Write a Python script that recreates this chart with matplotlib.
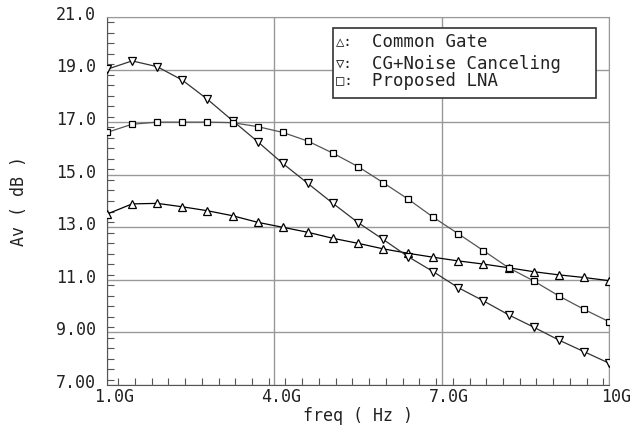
import matplotlib
matplotlib.use('Agg')
import matplotlib.pyplot as plt
from matplotlib.ticker import MultipleLocator, FixedLocator
from matplotlib.transforms import ScaledTranslation

# frequency points (GHz), 21 points from 1 to 10
freq = [1.0, 1.45, 1.9, 2.35, 2.8, 3.25, 3.7, 4.15, 4.6, 5.05, 5.5,
        5.95, 6.4, 6.85, 7.3, 7.75, 8.2, 8.65, 9.1, 9.55, 10.0]

cg = [13.50, 13.89, 13.91, 13.78, 13.63, 13.44, 13.19, 13.00, 12.81, 12.58, 12.39,
      12.18, 12.01, 11.86, 11.72, 11.60, 11.46, 11.31, 11.19, 11.09, 10.97]
cg_nc = [19.01, 19.33, 19.11, 18.60, 17.87, 17.06, 16.26, 15.43, 14.67, 13.91, 13.18,
         12.54, 11.88, 11.31, 10.70, 10.20, 9.67, 9.20, 8.71, 8.27, 7.83]
proposed = [16.61, 16.92, 17.00, 17.00, 17.00, 16.98, 16.83, 16.61, 16.28, 15.82, 15.31,
            14.70, 14.07, 13.38, 12.75, 12.11, 11.46, 10.96, 10.39, 9.88, 9.41]

xticks = [1, 4, 7, 10]
xticklabels = ['1.0G', '4.0G', '7.0G', '10G']
yticks = [7, 9, 11, 13, 15, 17, 19, 21]
yticklabels = ['7.00', '9.00', '11.0', '13.0', '15.0', '17.0', '19.0', '21.0']

legend_names = ['Common Gate', 'CG+Noise Canceling', 'Proposed LNA']
legend_syms = ['\u25b3', '\u25bd', '\u25a1']

font = ['DejaVu Sans Mono', 'DejaVu Sans']
txtc = '#222222'

fig = plt.figure(figsize=(6.32, 4.30), dpi=100)
ax = fig.add_axes([107/632, 45/430, 502/632, 368/430])

ax.plot(freq, cg, color='black', lw=0.9, marker='^', ms=6, mfc='white', mec='black', mew=0.9, zorder=3)
ax.plot(freq, cg_nc, color='#333333', lw=0.9, marker='v', ms=6, mfc='white', mec='black', mew=0.9, zorder=3)
ax.plot(freq, proposed, color='#555555', lw=0.9, marker='s', ms=5, mfc='white', mec='black', mew=0.9, zorder=3)

ax.set_xlim(1, 10)
ax.set_ylim(7, 21)
ax.xaxis.set_major_locator(FixedLocator(xticks))
ax.yaxis.set_major_locator(FixedLocator(yticks))
ax.xaxis.set_minor_locator(MultipleLocator(0.3))
ax.yaxis.set_minor_locator(MultipleLocator(0.4))
ax.set_xticklabels(xticklabels, family=font, fontsize=12, color=txtc)
ax.set_yticklabels(yticklabels, family=font, fontsize=12, color=txtc)
ax.grid(True, which='major', color='#999999', lw=1.0)
ax.tick_params(which='both', direction='in', top=False, right=False, color='#555555')
ax.tick_params(which='major', length=0, pad=8)
ax.tick_params(which='minor', length=5, width=0.8)
ax.tick_params(axis='x', which='major', pad=2)

for lab in ax.get_yticklabels():
    lab.set_transform(lab.get_transform() + ScaledTranslation(0, 3/72, fig.dpi_scale_trans))
for lab in ax.get_xticklabels():
    lab.set_transform(lab.get_transform() + ScaledTranslation(5/72, 0, fig.dpi_scale_trans))

for side in ['top', 'right']:
    ax.spines[side].set_color('#999999')
for side in ['left', 'bottom']:
    ax.spines[side].set_color('#555555')

ax.set_xlabel('freq ( Hz )', family=font, fontsize=12, labelpad=1, color=txtc)
ax.set_ylabel('Av ( dB )', family=font, fontsize=12, labelpad=20, color=txtc)

# legend box drawn as text
box = plt.Rectangle((0.45, 0.78), 0.524, 0.19, transform=ax.transAxes,
                    facecolor='white', edgecolor='#333333', lw=1.2, zorder=5)
ax.add_patch(box)
ys = [0.932, 0.872, 0.825]
for sym, name, y in zip(legend_syms, legend_names, ys):
    ax.text(0.456, y, sym + ':', transform=ax.transAxes, family=font, fontsize=10,
            va='center', ha='left', zorder=6, color=txtc)
    ax.text(0.528, y, name, transform=ax.transAxes, family=font, fontsize=12.5,
            va='center', ha='left', zorder=6, color=txtc)

fig.savefig('out.png', dpi=100)
